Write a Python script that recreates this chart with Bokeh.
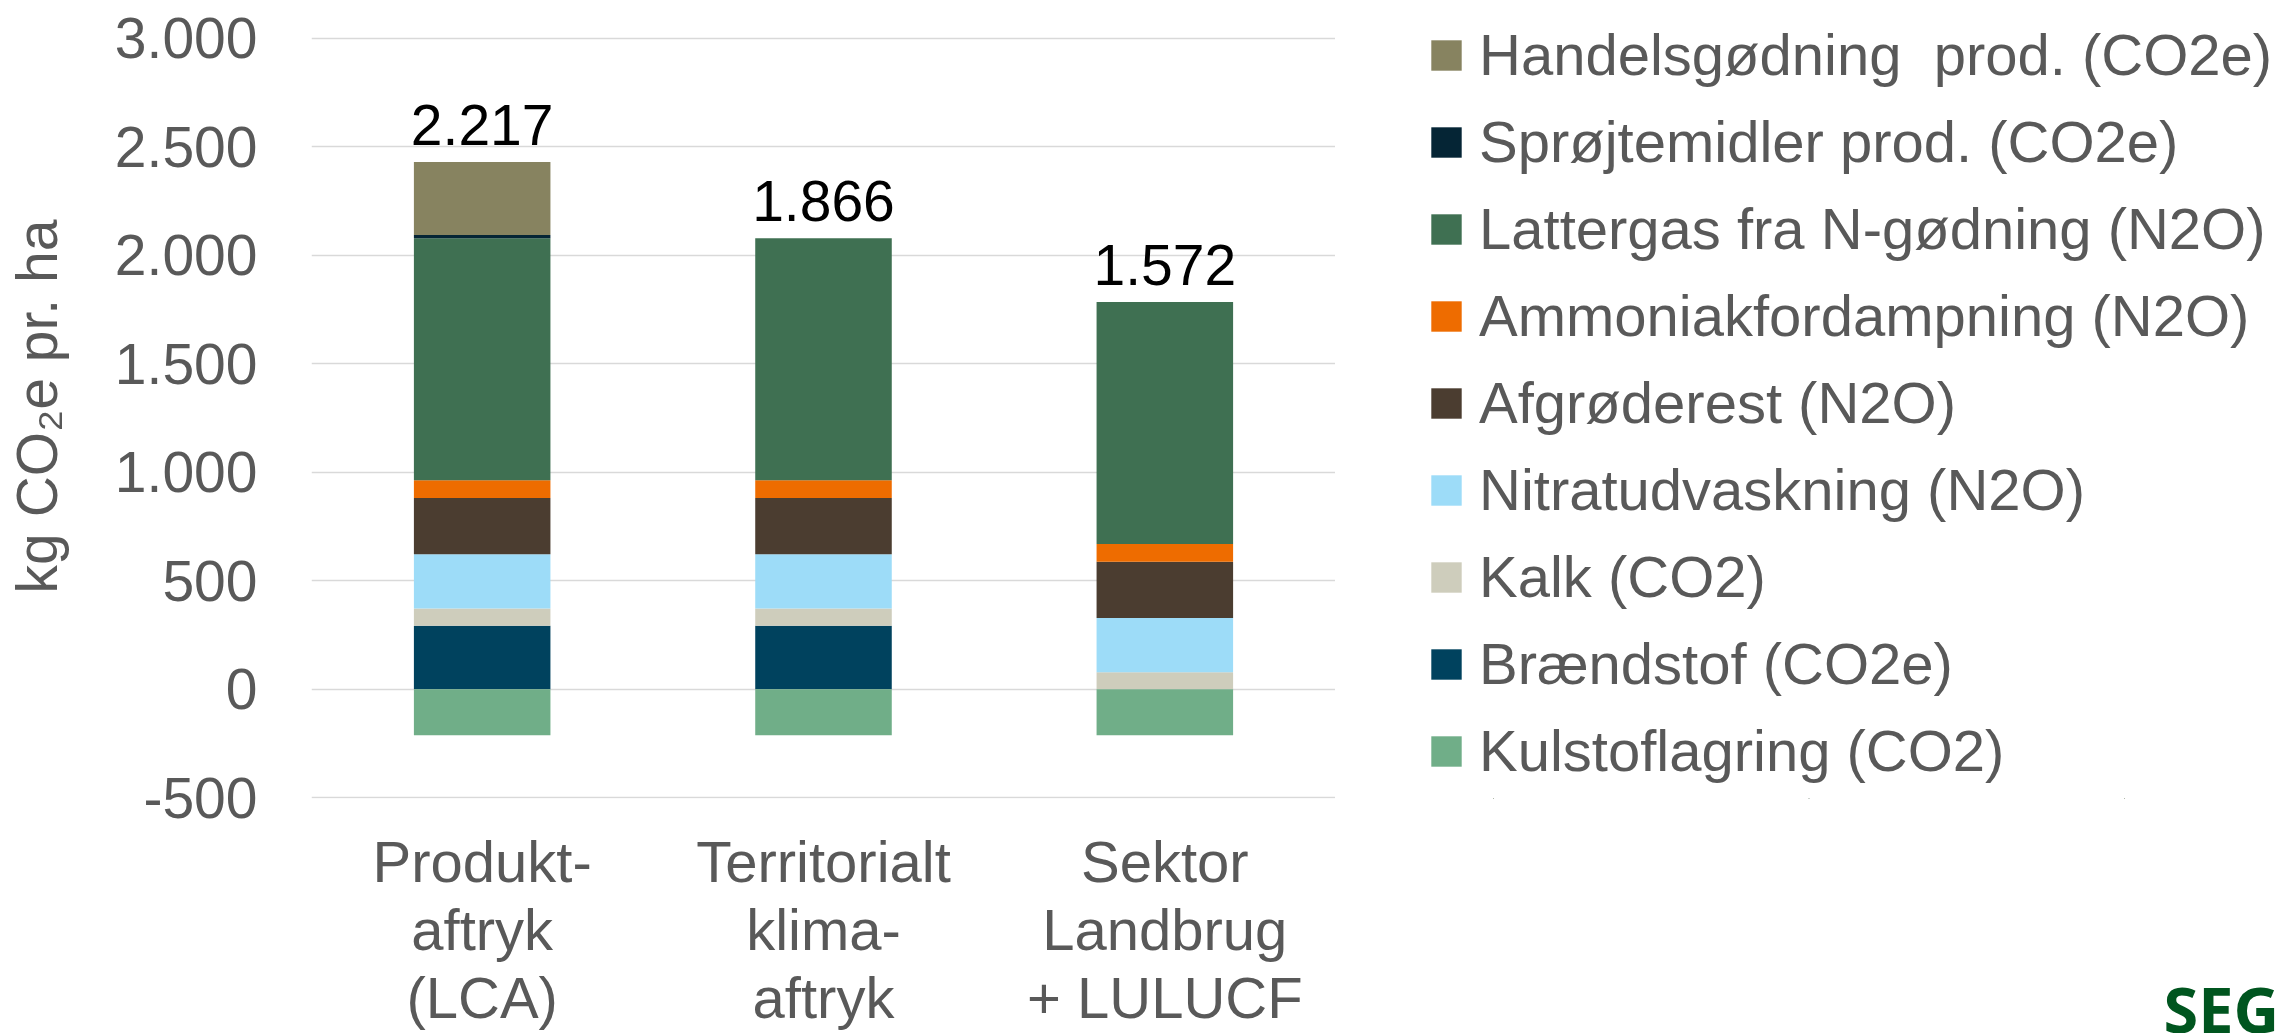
from bokeh.plotting import figure
from bokeh.layouts import row
from bokeh.models import (ColumnDataSource, FactorRange, Range1d, FixedTicker, Legend,
                          LegendItem, LabelSet, Label)
from bokeh.embed import file_html
from bokeh.resources import INLINE
from bokeh.core.properties import value

# ---------------- data ----------------
categories = ["Produkt-\naftryk\n(LCA)", "Territorialt\nklima-\naftryk", "Sektor\nLandbrug\n+ LULUCF"]

kulstoflagring = [-212, -212, -212]
braendstof = [292, 292, 0]
kalk = [80, 80, 78]
nitratudvaskning = [250, 250, 250]
afgroederest = [259, 259, 259]
ammoniakfordampning = [82, 82, 82]
lattergas = [1115, 1115, 1115]
sproejtemidler = [15, 0, 0]
handelsgoedning = [336, 0, 0]

series_keys = ["braendstof", "kalk", "nitrat", "afgroede", "ammoniak", "lattergas", "sproejte", "handels"]
series_labels = ["Brændstof (CO2e)", "Kalk (CO2)", "Nitratudvaskning (N2O)", "Afgrøderest (N2O)",
                 "Ammoniakfordampning (N2O)", "Lattergas fra N-gødning (N2O)",
                 "Sprøjtemidler prod. (CO2e)", "Handelsgødning  prod. (CO2e)"]
series_colors = ["#00425e", "#cecdbc", "#9ddcf8", "#4b3d30", "#ee6c00", "#3f7052", "#052535", "#878360"]
negative_label = "Kulstoflagring (CO2)"
negative_color = "#70ae88"

y_ticks = [-500, 0, 500, 1000, 1500, 2000, 2500, 3000]
y_tick_labels = ["-500", "0", "500", "1.000", "1.500", "2.000", "2.500", "3.000"]

logo_text = "SEGES"

FONT = "Liberation Sans"
GREY = "#595959"

# ---------------- derived ----------------
positive_series = [braendstof, kalk, nitratudvaskning, afgroederest, ammoniakfordampning,
                   lattergas, sproejtemidler, handelsgoedning]
tops = [sum(s[i] for s in positive_series) for i in range(len(categories))]
totals = [tops[i] + kulstoflagring[i] for i in range(len(categories))]
total_labels = [f"{t:,}".replace(",", ".") for t in totals]

data = dict(cat=categories, kulstof=kulstoflagring, top=tops, total=total_labels)
for k, s in zip(series_keys, positive_series):
    data[k] = s
src = ColumnDataSource(data)

# ---------------- chart ----------------
p = figure(x_range=FactorRange(*categories), y_range=Range1d(-503.7, 3108.9),
           width=1335, height=1033, output_backend="svg", toolbar_location=None,
           min_border_left=311, min_border_right=0, min_border_top=14, min_border_bottom=233)
p.outline_line_color = None
p.background_fill_color = "white"
p.border_fill_color = "white"

stack = p.vbar_stack(series_keys, x="cat", width=0.4, fill_color=series_colors,
                     line_color=None, source=src)
neg = p.vbar(x="cat", top=0, bottom="kulstof", width=0.4, fill_color=negative_color,
             line_color=None, source=src)

# y axis
ya = p.yaxis[0]
ya.ticker = FixedTicker(ticks=y_ticks)
ya.major_label_overrides = dict(zip(y_ticks, y_tick_labels))
ya.axis_line_color = None
ya.major_tick_line_color = None
ya.minor_tick_line_color = None
ya.major_tick_out = 0
ya.major_tick_in = 0
ya.major_label_standoff = 54
ya.major_label_text_font = FONT
ya.major_label_text_font_size = "57px"
ya.major_label_text_color = GREY
ya.axis_label = "kg CO₂e pr. ha"
ya.axis_label_text_font = FONT
ya.axis_label_text_font_size = "57px"
ya.axis_label_text_font_style = "normal"
ya.axis_label_text_color = GREY
ya.axis_label_standoff = 43

# x axis (category labels)
xa = p.xaxis[0]
xa.axis_line_color = None
xa.major_tick_line_color = None
xa.minor_tick_line_color = None
xa.major_tick_out = 0
xa.major_tick_in = 0
xa.major_label_standoff = 30
xa.major_label_text_font = FONT
xa.major_label_text_font_size = "58px"
xa.major_label_text_color = GREY
xa.major_label_text_line_height = 1.05

p.xgrid.grid_line_color = None
p.ygrid.grid_line_color = "#d9d9d9"
p.ygrid.grid_line_width = 1.6

# totals above bars
tot_labels = LabelSet(x="cat", y="top", text="total", source=src, y_offset=17,
                      text_align="center", text_baseline="alphabetic",
                      text_font=value(FONT), text_font_size="57px", text_color="black")
p.add_layout(tot_labels)

# ---------------- legend panel ----------------
q = figure(width=947, height=1033, output_backend="svg", toolbar_location=None,
           x_range=FactorRange(*categories), y_range=Range1d(10000, 11000),
           x_axis_type=None, y_axis_type=None,
           min_border=0, min_border_left=0, min_border_right=0, min_border_top=0, min_border_bottom=0)
q.outline_line_color = None
q.grid.visible = False
q.background_fill_color = "white"
q.border_fill_color = "white"

# legend keys: same series, kept outside this panel's visible range
qstack = q.vbar_stack(series_keys, x="cat", width=0.001, fill_color=series_colors,
                      line_color=None, source=src)
qneg = q.vbar(x="cat", top=0, bottom="kulstof", width=0.001, fill_color=negative_color,
              line_color=None, source=src)

items = [LegendItem(label=series_labels[i], renderers=[qstack[i]]) for i in range(len(qstack) - 1, -1, -1)]
items.append(LegendItem(label=negative_label, renderers=[qneg]))
legend = Legend(items=items, location=(92, 14), orientation="vertical",
                glyph_width=38, glyph_height=38, label_height=67, label_standoff=14,
                spacing=20, padding=0, margin=0, border_line_color=None,
                background_fill_alpha=0, label_text_font=FONT, label_text_font_size="58px",
                label_text_color=GREY)
q.add_layout(legend)

logo = Label(x=828, y=-125, x_units="screen", y_units="screen", text=logo_text,
             text_font="Open Sans", text_font_style="bold", text_font_size="63px",
             text_color="#00551f", text_baseline="alphabetic")
q.add_layout(logo, "below")

open("out.html", "w").write(file_html(row(p, q), INLINE))
